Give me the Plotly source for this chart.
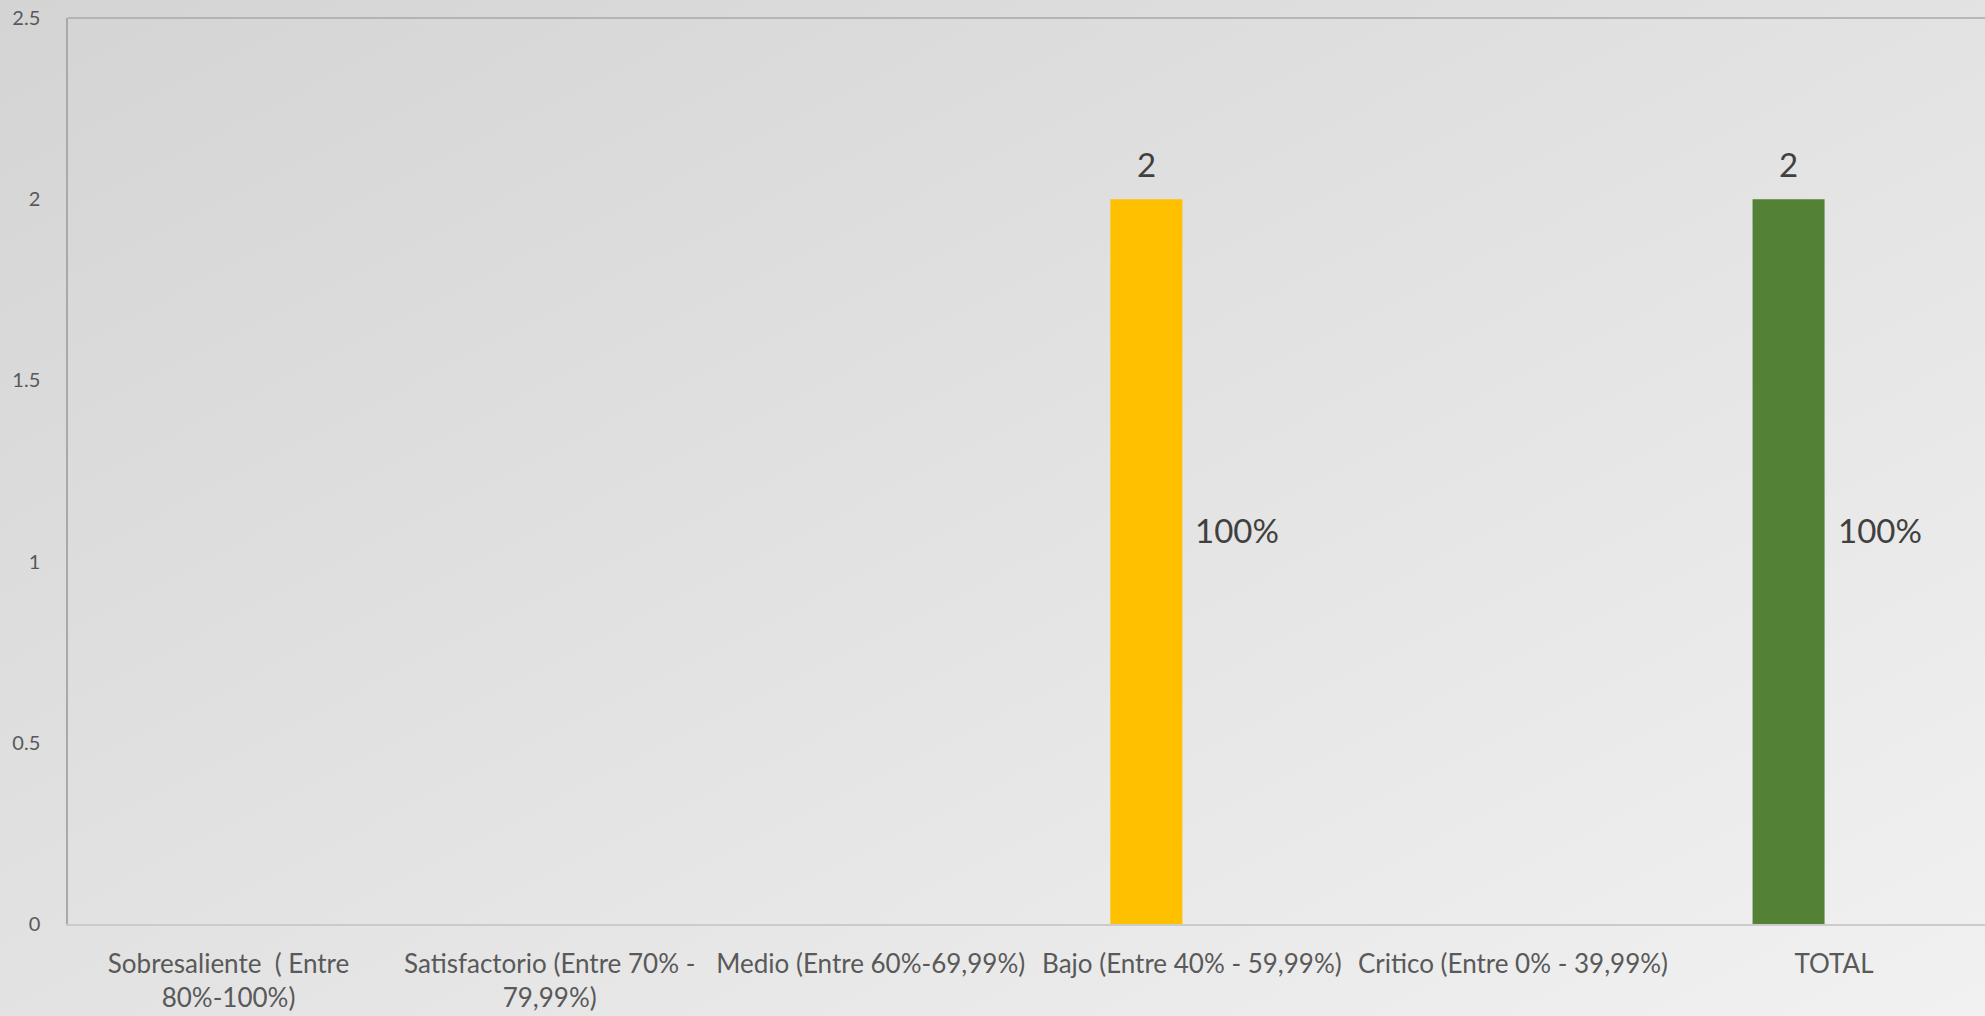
import base64
import plotly.graph_objects as go

# ---- data ----
categories = [
    "Sobresaliente  ( Entre<br>80%-100%)",
    "Satisfactorio (Entre 70% -<br>79,99%)",
    "Medio (Entre 60%-69,99%)",
    "Bajo (Entre 40% - 59,99%)",
    "Critico (Entre 0% - 39,99%)",
    "TOTAL",
]
counts = [None, None, None, 2, None, 2]
percents = [None, None, None, 1.0, None, 1.0]
bar_colors = ["#4472C4", "#A5A5A5", "#ED7D31", "#FFC000", "#C00000", "#538135"]
y_ticks = [0, 0.5, 1, 1.5, 2, 2.5]
y_tick_labels = ["0", "0.5", "1", "1.5", "2", "2.5"]

W, H = 1985, 1016
ML, MR, MT, MB = 68, 0, 18, 92
PW, PH = W - ML - MR, H - MT - MB

FONT = "Lato"
LABEL_COLOR = "#404040"
TICK_COLOR = "#595959"

fig = go.Figure()
fig.add_trace(go.Bar(
    x=categories, y=counts, marker=dict(color=bar_colors, line=dict(width=0)),
    name="Cantidad", hoverinfo="x+y",
))
fig.add_trace(go.Bar(
    x=categories, y=percents, marker=dict(color="rgba(0,0,0,0)", line=dict(width=0)),
    name="Porcentaje", hoverinfo="x+y",
))

bargap = 0.433
bargroupgap = 0.209
x_range = [-0.5, 5.47]
cat_px = PW / (x_range[1] - x_range[0])
slot_px = cat_px * (1 - bargap) / 2

annotations = []
for cat, v in zip(categories, counts):
    if v:
        annotations.append(dict(
            x=cat, y=v, xref="x", yref="y", text=f"{v:g}", showarrow=False,
            yanchor="bottom", yshift=13, xshift=-slot_px / 2,
            font=dict(family=FONT, size=33, color=LABEL_COLOR),
        ))
for cat, p in zip(categories, percents):
    if p:
        annotations.append(dict(
            x=cat, y=p, xref="x", yref="y", text=f"{p*100:.0f}%", showarrow=False,
            yanchor="bottom", yshift=10, xshift=slot_px / 2,
            font=dict(family=FONT, size=33, color=LABEL_COLOR),
        ))

svg = (
    f'<svg xmlns="http://www.w3.org/2000/svg" width="{W}" height="{H}" '
    f'viewBox="0 0 {W} {H}" preserveAspectRatio="none">'
    '<defs><linearGradient id="g" x1="0" y1="0" x2="1" y2="1">'
    '<stop offset="0" stop-color="#d4d4d4"/><stop offset="1" stop-color="#f1f1f1"/>'
    '</linearGradient></defs><rect width="100%" height="100%" fill="url(#g)"/></svg>'
)
src = "data:image/svg+xml;base64," + base64.b64encode(svg.encode()).decode()

fig.update_layout(
    width=W, height=H,
    margin=dict(l=ML, r=MR, t=MT, b=MB, pad=0),
    paper_bgcolor="#e2e2e2", plot_bgcolor="rgba(0,0,0,0)",
    barmode="group", bargap=bargap, bargroupgap=bargroupgap,
    showlegend=False,
    font=dict(family=FONT, color=TICK_COLOR),
    annotations=annotations,
    images=[dict(
        source=src, xref="paper", yref="paper",
        x=-ML / PW, y=1 + MT / PH, sizex=W / PW, sizey=H / PH,
        xanchor="left", yanchor="top", sizing="stretch", layer="below",
    )],
    shapes=[dict(
        type="line", xref="paper", yref="paper", x0=0, x1=1, y0=1, y1=1,
        line=dict(color="#a9a9a9", width=1.5),
    )],
)
fig.update_xaxes(
    range=x_range, showgrid=False, zeroline=False,
    showline=True, linecolor="#cbcbcb", linewidth=2,
    ticks="", ticklabelstandoff=16,
    tickfont=dict(family=FONT, size=26, color=TICK_COLOR),
)
fig.update_yaxes(
    range=[0, 2.5], tickvals=y_ticks, ticktext=y_tick_labels,
    showgrid=False, zeroline=False,
    showline=True, linecolor="#a9a9a9", linewidth=1.5,
    ticks="", ticklabelstandoff=22,
    tickfont=dict(family=FONT, size=20, color=TICK_COLOR),
)

fig.write_html(
    "out.html",
    config={"displayModeBar": False},
    post_script="document.body.style.margin='0';document.body.style.overflow='hidden';",
)
